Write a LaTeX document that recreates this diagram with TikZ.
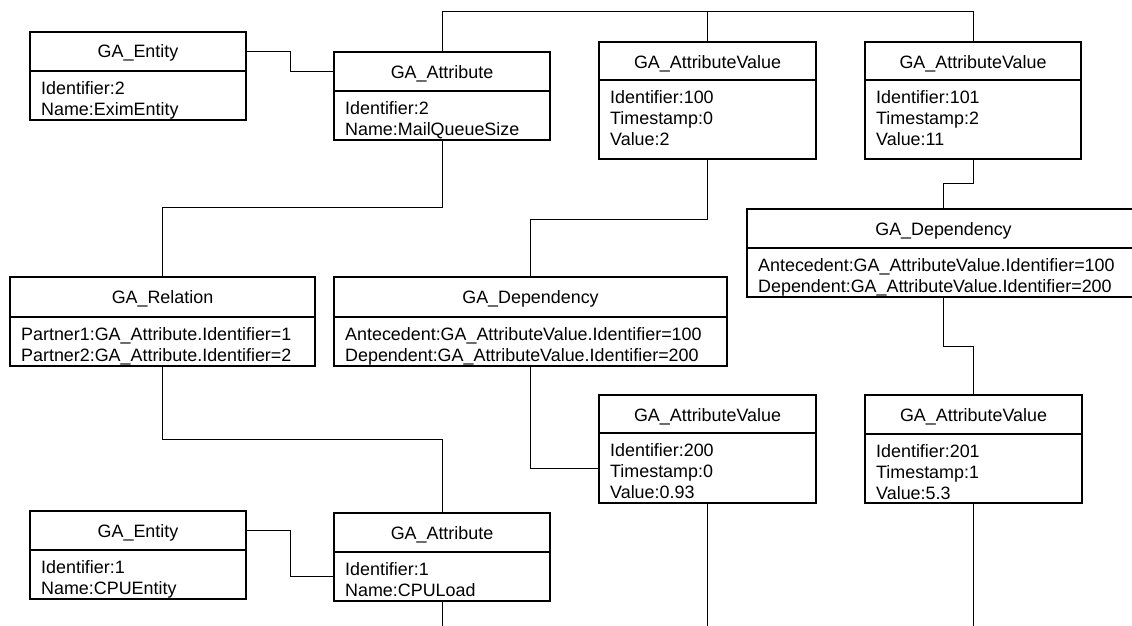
\documentclass[tikz,border=0pt]{standalone}
\usepackage{fontspec}
\setmainfont{Liberation Sans}
\usetikzlibrary{positioning}

% class box: a title row and an attribute row, each its own node
\tikzset{
  rowbox/.style={draw, line width=1.1pt, fill=white, inner sep=0pt, outer sep=0pt},
  titletext/.style={inner sep=0pt, font=\fontsize{17.9}{20.8}\selectfont},
  bodytext/.style={inner sep=0pt, font=\fontsize{17.9}{20.8}\selectfont},
  link/.style={draw, line width=1pt}
}

% #1 name, #2 x, #3 y, #4 width, #5 title row height, #6 body row height,
% #7 title, #8 attribute lines
\newcommand\umlbox[8]{%
  \node[rowbox, minimum width=#4pt, minimum height=#5pt, anchor=north west] (#1t) at (#2,#3) {};
  \node[rowbox, minimum width=#4pt, minimum height=#6pt, anchor=north west] (#1b) at (#1t.south west) {};
  \node[titletext, anchor=base] (#1n) at ([yshift=-26pt]#1t.north) {#7};
  \node[bodytext, anchor=base west] (#1a) at ([xshift=11pt, yshift=-23.5pt]#1b.north west)
    {\begin{tabular}[t]{@{}l@{}}#8\end{tabular}};
}

\begin{document}
\begin{tikzpicture}[x=1pt, y=-1pt]
  \useasboundingbox (0,0) rectangle (1132,626);
  \fill[white] (0,0) rectangle (1132,626);
  \clip (0,0) rectangle (1132,626);

  % connectors first, boxes are drawn over them
  \umlbox{ea}{30}{32}{216}{39}{49}{GA\_Entity}{Identifier:2\\Name:EximEntity}
  \umlbox{aa}{334}{52}{216}{39}{49}{GA\_Attribute}{Identifier:2\\Name:MailQueueSize}
  \umlbox{va}{599}{42}{217}{38}{79}{GA\_AttributeValue}{Identifier:100\\Timestamp:0\\Value:2}
  \umlbox{vb}{865}{42}{216}{38}{79}{GA\_AttributeValue}{Identifier:101\\Timestamp:2\\Value:11}
  \umlbox{dr}{747}{209}{393}{39}{49}{GA\_Dependency}{Antecedent:GA\_AttributeValue.Identifier=100\\Dependent:GA\_AttributeValue.Identifier=200}
  \umlbox{rl}{10}{277}{305}{40}{49}{GA\_Relation}{Partner1:GA\_Attribute.Identifier=1\\Partner2:GA\_Attribute.Identifier=2}
  \umlbox{dm}{334}{277}{393}{40}{49}{GA\_Dependency}{Antecedent:GA\_AttributeValue.Identifier=100\\Dependent:GA\_AttributeValue.Identifier=200}
  \umlbox{vc}{599}{395}{217}{38}{70}{GA\_AttributeValue}{Identifier:200\\Timestamp:0\\Value:0.93}
  \umlbox{vd}{865}{395}{217}{39}{69}{GA\_AttributeValue}{Identifier:201\\Timestamp:1\\Value:5.3}
  \umlbox{eb}{30}{511}{216}{39}{49}{GA\_Entity}{Identifier:1\\Name:CPUEntity}
  \umlbox{ab}{334}{513}{216}{39}{49}{GA\_Attribute}{Identifier:1\\Name:CPULoad}

  % links between the boxes
  \draw[link] (eat.east) -- ++(44,0) |- (aat.west);
  \draw[link] (aat.north) -- ++(0,-40) -| (vbt.north);
  \draw[link] (vat.north) -- ++(0,-30);
  \draw[link] (aab.south) -- ++(0,67) -| (rlt.north);
  \draw[link] (vab.south) -- ++(0,60) -| (dmt.north);
  \draw[link] (vbb.south) -- ++(0,24) -| (drt.north);
  \draw[link] (rlb.south) -- ++(0,73) -| (abt.north);
  \draw[link] (dmb.south) |- (vcb.west);
  \draw[link] (drb.south) -- ++(0,49) -| (vdt.north);
  \draw[link] (ebt.east) -- ++(44,0) |- (abb.west);
  \draw[link] (abb.south) -- ++(0,40);
  \draw[link] (vcb.south) -- ++(0,140);
  \draw[link] (vdb.south) -- ++(0,140);
\end{tikzpicture}
\end{document}
